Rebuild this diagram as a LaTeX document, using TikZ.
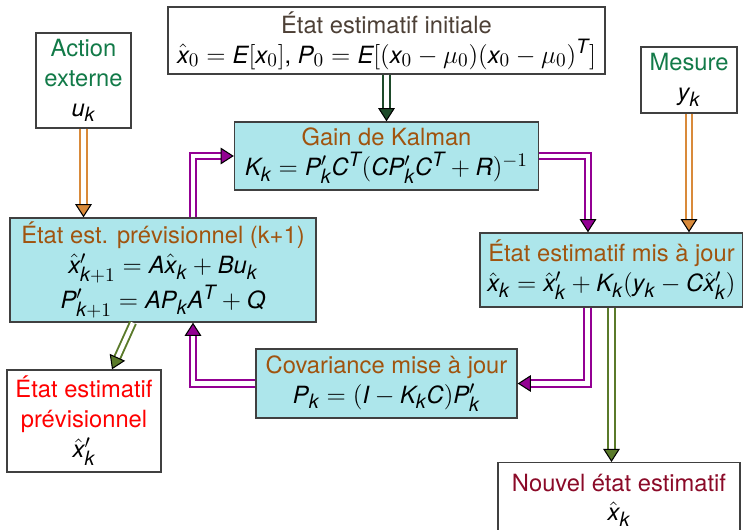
\documentclass[tikz,border=0pt]{standalone}
\usepackage{fontspec}
\setmainfont{TeX Gyre Heros}
\usepackage[italic,nominus]{mathastext}
\usetikzlibrary{arrows.meta}

\definecolor{fondbleu}{HTML}{ADE6EB}
\definecolor{titre}{HTML}{A0540F}
\definecolor{vert}{HTML}{127A48}
\definecolor{rougefonce}{HTML}{8B0A28}
\definecolor{grisbrun}{HTML}{4D4036}
\definecolor{violet}{HTML}{930093}
\definecolor{orange}{HTML}{D98A3A}
\definecolor{vertfonce}{HTML}{1E4A2A}
\definecolor{olive}{HTML}{5A7A2A}

\begin{document}
\begin{tikzpicture}
  [font=\fontsize{13.5}{17}\selectfont,
   every node/.style={draw=black!75,thick,align=center,inner sep=1pt},
   bloc/.style={fill=fondbleu},
   fleche/.style={draw=#1,double=white,line width=1.1pt,double distance=2.4pt,
     -{Triangle[length=7.5pt,width=9.5pt,color=black,fill=#1,line width=0.6pt]}}]
\useasboundingbox (0,0) rectangle (14.86,10.58);
% Blocs du filtre
  \node (init)    at (7.73,9.77) [minimum width=8.74cm,minimum height=1.34cm]
        {\textcolor{grisbrun}{État estimatif initiale}\\
         $\hat{x}_0=E[x_0]$, $P_0=E[(x_0-\mu_0)(x_0-\mu_0)^T]$};
  \node (action)  at (1.67,8.97) [minimum width=1.9cm,minimum height=1.9cm]
        {\textcolor{vert}{Action}\\ \textcolor{vert}{externe}\\ $u_k$};
  \node (mesure)  at (13.78,8.98) [minimum width=1.92cm,minimum height=1.32cm]
        {\textcolor{vert}{Mesure}\\ $y_k$};
  \node (gain)    at (7.73,7.46) [bloc,minimum width=6.08cm,minimum height=1.36cm]
        {\textcolor{titre}{Gain de Kalman}\\ $K_k=P'_kC^T(CP'_kC^T+R)^{-1}$};
  \node (prev)    at (3.26,5.18) [bloc,minimum width=6.12cm,minimum height=2.08cm]
        {\textcolor{titre}{État est. prévisionnel (k+1)}\\
         $\hat{x}'_{k+1}=A\hat{x}_k+Bu_k$\\ $P'_{k+1}=AP_kA^T+Q$};
  \node (maj)     at (12.23,5.18) [bloc,minimum width=5.26cm,minimum height=1.48cm]
        {\textcolor{titre}{État estimatif mis à jour}\\
         $\hat{x}_k=\hat{x}'_k+K_k(y_k-C\hat{x}'_k)$};
  \node (cov)     at (7.73,2.91) [bloc,minimum width=5.22cm,minimum height=1.38cm]
        {\textcolor{titre}{Covariance mise à jour}\\ $P_k=(I-K_kC)P'_k$};
  \node (prevout) at (1.68,2.16) [minimum width=3.08cm,minimum height=2.04cm]
        {\textcolor{red}{État estimatif}\\ \textcolor{red}{prévisionnel}\\ $\hat{x}'_k$};
  \node (nouvel)  at (12.38,1.34) [anchor=north,minimum width=4.84cm,minimum height=1.5cm]
        {\textcolor{rougefonce}{Nouvel état estimatif}\\ $\hat{x}_k$};

  % Flèches
  \draw[fleche=vertfonce] (init.south) -- (gain.north);
  \draw[fleche=orange] (action.south) -- (action.south |- prev.north);
  \draw[fleche=orange] (mesure.south) -- (mesure.south |- maj.north);
  \draw[fleche=violet] (gain.east) -| ([xshift=-4.7mm]maj.north);
  \draw[fleche=violet] ([xshift=6mm]prev.north) |- (gain.west);
  \draw[fleche=violet] ([xshift=-4.8mm]maj.south) |- (cov.east);
  \draw[fleche=violet] (cov.west) -| ([xshift=6mm]prev.south);
  \draw[fleche=olive] ([xshift=-6mm]prev.south) -- ([xshift=5.6mm]prevout.north);
  \draw[fleche=olive] (maj.south) -- (maj.south |- nouvel.north);
\end{tikzpicture}
\end{document}
